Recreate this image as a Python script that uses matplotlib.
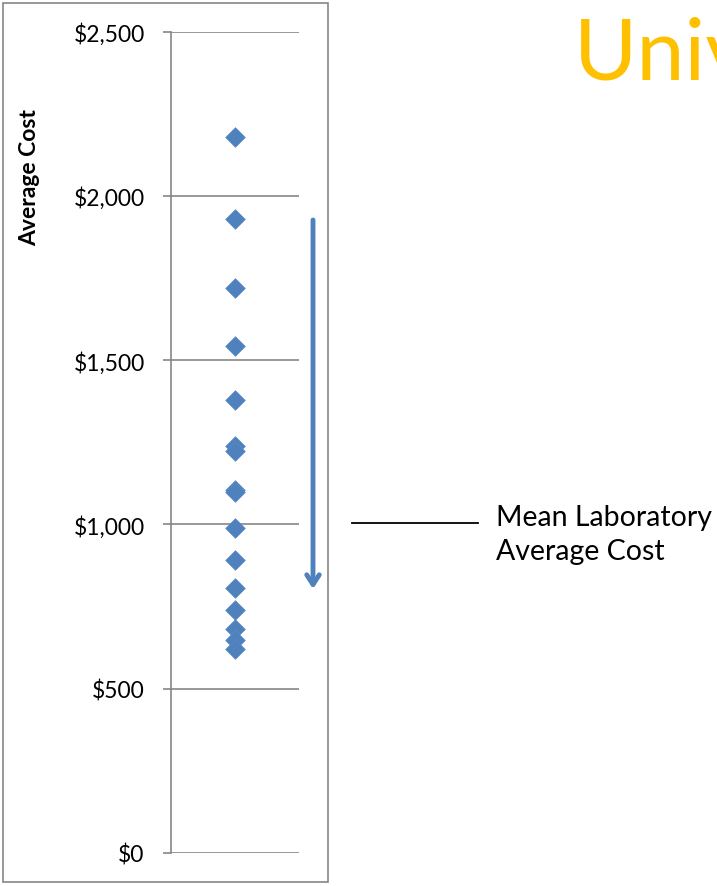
import matplotlib.pyplot as plt
from matplotlib.patches import Rectangle
from matplotlib.lines import Line2D
from matplotlib.ticker import FuncFormatter

# laboratory average cost per test ($)
costs = [2180, 1928, 1720, 1543, 1378, 1238, 1222, 1106, 1100,
         988, 891, 805, 741, 683, 647, 620]
yticks = [0, 500, 1000, 1500, 2000, 2500]
mean_label = "Mean Laboratory\nAverage Cost"
title = "Univ"

blue = "#4F81BD"
grey = "#868686"

plt.rcParams['font.family'] = ['Lato', 'DejaVu Sans']

W, H = 717, 887
fig = plt.figure(figsize=(W / 100, H / 100), dpi=100)

# outer chart frame
fig.patches.append(Rectangle((3 / W, 1 - 883 / H), 325 / W, 879 / H,
                             transform=fig.transFigure, fill=False,
                             edgecolor=grey, lw=1.2))

ax = fig.add_axes([171 / W, 1 - 854 / H, 128 / W, (854 - 32.5) / H])
ax.scatter([1] * len(costs), costs, marker='D', s=100, color=blue,
           edgecolors='#5A8AC6', linewidths=0.5, zorder=3)

ax.set_xlim(0, 2)
ax.set_ylim(0, 2500)
ax.set_yticks(yticks)
ax.yaxis.set_major_formatter(FuncFormatter(lambda v, p: "${:,.0f}".format(v)))
ax.grid(axis='y', color=grey, lw=1.2)
ax.set_axisbelow(True)
ax.set_xticks([])
for s in ['top', 'right', 'bottom']:
    ax.spines[s].set_visible(False)
ax.spines['left'].set_color(grey)
ax.spines['left'].set_linewidth(1.2)
ax.tick_params(axis='y', length=6, width=1.2, color=grey, labelsize=16.5, pad=13)
ax.set_ylabel("Average Cost", fontsize=16.5, fontweight='bold')
ax.yaxis.set_label_coords((30 - 171) / 128, (854 - 178) / (854 - 32.5))
ax.yaxis.label.set_va('center')

# downward trend arrow
ax.annotate("", xy=(313 / W, 1 - 590 / H), xytext=(313 / W, 1 - 221 / H),
            xycoords='figure fraction', textcoords='figure fraction',
            arrowprops=dict(arrowstyle='->,head_length=0.7,head_width=0.45',
                            color=blue, lw=3.5, shrinkA=0, shrinkB=0))

# leader line and label for the mean
fig.add_artist(Line2D([352 / W, 478 / W], [1 - 524 / H, 1 - 524 / H],
                      transform=fig.transFigure, color='black', lw=1.3))
fig.text(496 / W, 1 - 535 / H, mean_label, fontsize=20.5, va='center',
         ha='left', linespacing=1.4)

fig.text(574 / W, 1 - 56 / H, title, fontsize=62, color='#FFC000',
         va='center', ha='left')

fig.savefig("out.png", dpi=100)
